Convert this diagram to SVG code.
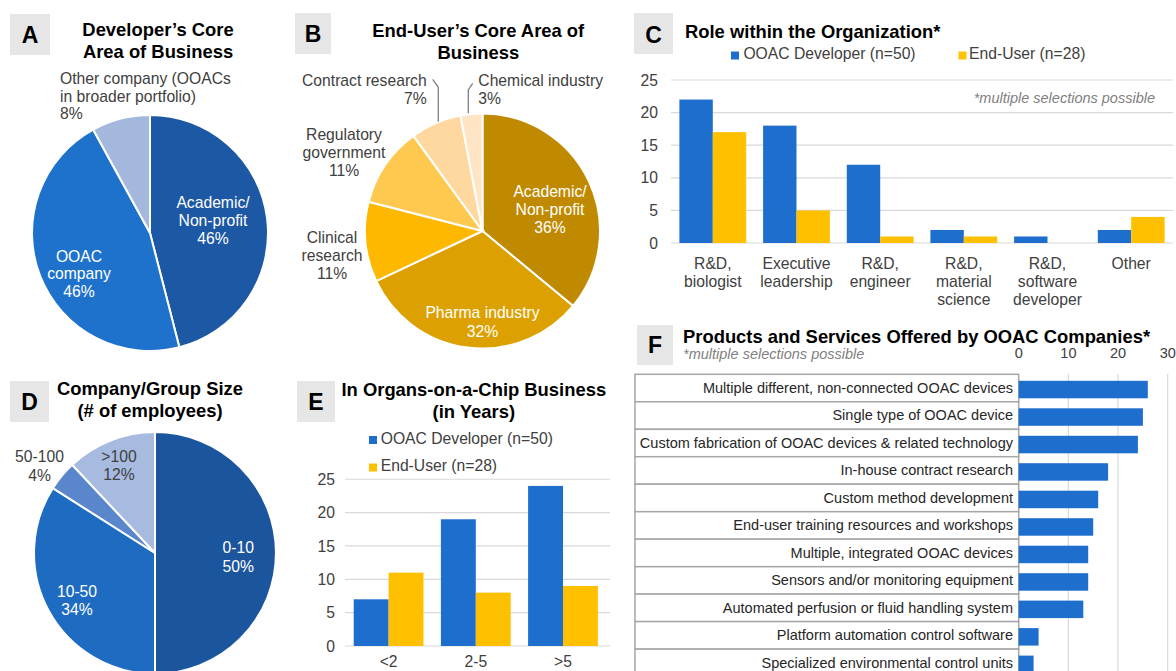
<svg xmlns="http://www.w3.org/2000/svg" width="1176" height="671" viewBox="0 0 1176 671">
<style>
text{font-family:"Liberation Sans",Arial,sans-serif}
.t{font-size:18.4px;font-weight:bold;fill:#000;text-anchor:middle}
.tl{font-size:18.4px;font-weight:bold;fill:#000}
.bx{fill:#e7e6e6}
.lt{font-size:23px;font-weight:bold;fill:#000;text-anchor:middle}
.l{font-size:15.7px;fill:#404040}
.lm{font-size:15.7px;fill:#404040;text-anchor:middle}
.le{font-size:15.7px;fill:#404040;text-anchor:end}
.w{font-size:15.7px;fill:#fff;text-anchor:middle}
.g{stroke:#d9d9d9;stroke-width:1.2;fill:none}
.sl{stroke:#fff;stroke-width:2}
.b{fill:#1e6ecd}
.y{fill:#ffc000}
.f{font-size:14.5px;fill:#262626;text-anchor:end}
.it{font-size:14.5px;font-style:italic;fill:#7f7f7f}
.ax{font-size:14.5px;fill:#404040;text-anchor:middle}
.ld{fill:none;stroke:#808080;stroke-width:1.3}
.row{fill:#fff;stroke:#a6a6a6;stroke-width:1.5}
</style>
<rect width="1176" height="671" fill="#fff"/>

<g id="panelA">
<rect class="bx" x="10" y="14" width="40" height="41"/>
<text class="lt" x="30" y="43">A</text>
<text class="t" x="158" y="36">Developer’s Core</text>
<text class="t" x="158" y="58">Area of Business</text>
<path class="sl" fill="#1d58a5" d="M150,233 L150,115 A118,118 0 0 1 179.35,347.29 Z"/>
<path class="sl" fill="#1f72cc" d="M150,233 L179.35,347.29 A118,118 0 0 1 93.15,129.6 Z"/>
<path class="sl" fill="#a4b8de" d="M150,233 L93.15,129.6 A118,118 0 0 1 150,115 Z"/>
<text class="l" x="60" y="84">Other company (OOACs</text>
<text class="l" x="60" y="101.7">in broader portfolio)</text>
<text class="l" x="60" y="119.4">8%</text>
<text class="w" x="213" y="207.5">Academic/</text>
<text class="w" x="213" y="225.5">Non-profit</text>
<text class="w" x="213" y="243.5">46%</text>
<text class="w" x="79" y="261.5">OOAC</text>
<text class="w" x="79" y="279">company</text>
<text class="w" x="79" y="296.5">46%</text>
</g>

<g id="panelB">
<rect class="bx" x="295" y="13" width="36" height="41"/>
<text class="lt" x="313" y="42">B</text>
<text class="t" x="478.3" y="37">End-User’s Core Area of</text>
<text class="t" x="478.3" y="59">Business</text>
<path class="sl" fill="#bf8a00" d="M482.5,231 L482.5,113.5 A117.5,117.5 0 0 1 573.03,305.9 Z"/>
<path class="sl" fill="#dca100" d="M482.5,231 L573.03,305.9 A117.5,117.5 0 0 1 376.18,281.03 Z"/>
<path class="sl" fill="#ffb800" d="M482.5,231 L376.18,281.03 A117.5,117.5 0 0 1 368.69,201.78 Z"/>
<path class="sl" fill="#ffc84f" d="M482.5,231 L368.69,201.78 A117.5,117.5 0 0 1 413.43,135.94 Z"/>
<path class="sl" fill="#fed89e" d="M482.5,231 L413.43,135.94 A117.5,117.5 0 0 1 460.48,115.58 Z"/>
<path class="sl" fill="#ffe5c6" d="M482.5,231 L460.48,115.58 A117.5,117.5 0 0 1 482.5,113.5 Z"/>
<path class="ld" d="M432.7,79.3 L438.3,87.3 L438.3,121.7"/>
<path class="ld" d="M468.3,113.3 L468.3,90 L472.7,83.3"/>
<text class="le" x="426.7" y="86">Contract research</text>
<text class="le" x="426.7" y="104">7%</text>
<text class="l" x="478.3" y="86">Chemical industry</text>
<text class="l" x="478.3" y="104">3%</text>
<text class="lm" x="344" y="139.5">Regulatory</text>
<text class="lm" x="344" y="157.5">government</text>
<text class="lm" x="344" y="175.5">11%</text>
<text class="lm" x="332" y="242.5">Clinical</text>
<text class="lm" x="332" y="260.5">research</text>
<text class="lm" x="332" y="279">11%</text>
<text class="w" x="550" y="196.5">Academic/</text>
<text class="w" x="550" y="214.5">Non-profit</text>
<text class="w" x="550" y="233">36%</text>
<text class="w" x="482.5" y="318">Pharma industry</text>
<text class="w" x="482.5" y="336.5">32%</text>
</g>

<g id="panelC">
<rect class="bx" x="634" y="13" width="39" height="41"/>
<text class="lt" x="653.5" y="43">C</text>
<text class="tl" x="685" y="38">Role within the Organization*</text>
<rect class="b" x="731" y="51.5" width="8" height="8"/>
<text class="l" x="743.4" y="59">OOAC Developer (n=50)</text>
<rect class="y" x="958.5" y="51.5" width="8" height="8"/>
<text class="l" x="969" y="59">End-User (n=28)</text>
<path class="g" d="M671,80H1173M671,112.6H1173M671,145.2H1173M671,177.8H1173M671,210.4H1173M671,243H1173"/>
<text class="le" x="658" y="85.5">25</text>
<text class="le" x="658" y="118">20</text>
<text class="le" x="658" y="150.7">15</text>
<text class="le" x="658" y="183.3">10</text>
<text class="le" x="658" y="215.9">5</text>
<text class="le" x="658" y="248.5">0</text>
<text class="it" x="1155" y="103" text-anchor="end">*multiple selections possible</text>
<rect class="b" x="679.4" y="99.56" width="33.4" height="143.44"/>
<rect class="y" x="712.8" y="132.16" width="33.4" height="110.84"/>
<rect class="b" x="763.1" y="125.64" width="33.4" height="117.36"/>
<rect class="y" x="796.5" y="210.4" width="33.4" height="32.6"/>
<rect class="b" x="846.8" y="164.76" width="33.4" height="78.24"/>
<rect class="y" x="880.2" y="236.48" width="33.4" height="6.52"/>
<rect class="b" x="930.4" y="229.96" width="33.4" height="13.04"/>
<rect class="y" x="963.8" y="236.48" width="33.4" height="6.52"/>
<rect class="b" x="1014.1" y="236.48" width="33.4" height="6.52"/>
<rect class="b" x="1097.8" y="229.96" width="33.4" height="13.04"/>
<rect class="y" x="1131.2" y="216.92" width="33.4" height="26.08"/>
<text class="lm" x="712.8" y="269">R&amp;D,</text>
<text class="lm" x="712.8" y="287">biologist</text>
<text class="lm" x="796.5" y="269">Executive</text>
<text class="lm" x="796.5" y="287">leadership</text>
<text class="lm" x="880.2" y="269">R&amp;D,</text>
<text class="lm" x="880.2" y="287">engineer</text>
<text class="lm" x="963.8" y="269">R&amp;D,</text>
<text class="lm" x="963.8" y="287">material</text>
<text class="lm" x="963.8" y="305">science</text>
<text class="lm" x="1047.5" y="269">R&amp;D,</text>
<text class="lm" x="1047.5" y="287">software</text>
<text class="lm" x="1047.5" y="305">developer</text>
<text class="lm" x="1131.2" y="269">Other</text>
</g>

<g id="panelD">
<rect class="bx" x="10" y="381" width="39" height="41"/>
<text class="lt" x="29.5" y="410">D</text>
<text class="t" x="150" y="395">Company/Group Size</text>
<text class="t" x="150" y="417">(# of employees)</text>
<path class="sl" fill="#1b559e" d="M155,553 L155,432 A121,121 0 0 1 155,674 Z"/>
<path class="sl" fill="#1e6cc2" d="M155,553 L155,674 A121,121 0 0 1 52.84,488.16 Z"/>
<path class="sl" fill="#5a86cc" d="M155,553 L52.84,488.16 A121,121 0 0 1 72.17,464.79 Z"/>
<path class="sl" fill="#a7bbe0" d="M155,553 L72.17,464.79 A121,121 0 0 1 155,432 Z"/>
<text class="w" x="238.3" y="553">0-10</text>
<text class="w" x="238.3" y="571.5">50%</text>
<text class="w" x="77" y="597">10-50</text>
<text class="w" x="77" y="615">34%</text>
<text class="lm" x="119" y="462">&gt;100</text>
<text class="lm" x="119" y="480">12%</text>
<text class="lm" x="39.5" y="462">50-100</text>
<text class="lm" x="39.5" y="480.5">4%</text>
</g>

<g id="panelE">
<rect class="bx" x="297" y="381" width="38" height="41"/>
<text class="lt" x="316" y="410">E</text>
<text class="t" x="473.8" y="396">In Organs-on-a-Chip Business</text>
<text class="t" x="473.8" y="418">(in Years)</text>
<rect class="b" x="369" y="436" width="8" height="8"/>
<text class="l" x="380.7" y="444.3">OOAC Developer (n=50)</text>
<rect class="y" x="369" y="463.5" width="8" height="8"/>
<text class="l" x="380.7" y="470.8">End-User (n=28)</text>
<path class="g" d="M345,479.25H610M345,512.6H610M345,545.95H610M345,579.3H610M345,612.65H610M345,646H610"/>
<text class="le" x="335" y="485">25</text>
<text class="le" x="335" y="518.3">20</text>
<text class="le" x="335" y="551.7">15</text>
<text class="le" x="335" y="585">10</text>
<text class="le" x="335" y="618.4">5</text>
<text class="le" x="335" y="651.7">0</text>
<rect class="b" x="353.7" y="599.31" width="34.9" height="46.69"/>
<rect class="y" x="388.6" y="572.63" width="34.9" height="73.37"/>
<rect class="b" x="440.9" y="519.27" width="34.9" height="126.73"/>
<rect class="y" x="475.8" y="592.64" width="34.9" height="53.36"/>
<rect class="b" x="528.1" y="485.92" width="34.9" height="160.08"/>
<rect class="y" x="563" y="585.97" width="34.9" height="60.03"/>
<text class="lm" x="388.6" y="667">&lt;2</text>
<text class="lm" x="475.8" y="667">2-5</text>
<text class="lm" x="563" y="667">&gt;5</text>
</g>

<g id="panelF">
<rect class="bx" x="637" y="325" width="36" height="40"/>
<text class="lt" x="655" y="353">F</text>
<text class="tl" x="683" y="343">Products and Services Offered by OOAC Companies*</text>
<text class="it" x="683" y="359">*multiple selections possible</text>
<text class="ax" x="1018.7" y="358">0</text>
<text class="ax" x="1068.4" y="358">10</text>
<text class="ax" x="1118" y="358">20</text>
<text class="ax" x="1167.7" y="358">30</text>
<path class="g" d="M1068.4,374V671M1118,374V671M1167.7,374V671"/>
<rect class="row" x="635" y="374.3" width="383.7" height="27.5"/>
<rect class="row" x="635" y="401.8" width="383.7" height="27.5"/>
<rect class="row" x="635" y="429.3" width="383.7" height="27.5"/>
<rect class="row" x="635" y="456.7" width="383.7" height="27.5"/>
<rect class="row" x="635" y="484.2" width="383.7" height="27.5"/>
<rect class="row" x="635" y="511.7" width="383.7" height="27.5"/>
<rect class="row" x="635" y="539.2" width="383.7" height="27.5"/>
<rect class="row" x="635" y="566.7" width="383.7" height="27.5"/>
<rect class="row" x="635" y="594.1" width="383.7" height="27.5"/>
<rect class="row" x="635" y="621.6" width="383.7" height="27.5"/>
<rect class="row" x="635" y="649.1" width="383.7" height="27.5"/>
<text class="f" x="1013" y="392.8">Multiple different, non-connected OOAC devices</text>
<text class="f" x="1013" y="420.3">Single type of OOAC device</text>
<text class="f" x="1013" y="447.8">Custom fabrication of OOAC devices &amp; related technology</text>
<text class="f" x="1013" y="475.2">In-house contract research</text>
<text class="f" x="1013" y="502.7">Custom method development</text>
<text class="f" x="1013" y="530.2">End-user training resources and workshops</text>
<text class="f" x="1013" y="557.7">Multiple, integrated OOAC devices</text>
<text class="f" x="1013" y="585.2">Sensors and/or monitoring equipment</text>
<text class="f" x="1013" y="612.6">Automated perfusion or fluid handling system</text>
<text class="f" x="1013" y="640.1">Platform automation control software</text>
<text class="f" x="1013" y="667.6">Specialized environmental control units</text>
<rect class="b" x="1018.7" y="380.8" width="129.1" height="17.5"/>
<rect class="b" x="1018.7" y="408.3" width="124.2" height="17.5"/>
<rect class="b" x="1018.7" y="435.8" width="119.2" height="17.5"/>
<rect class="b" x="1018.7" y="463.2" width="89.4" height="17.5"/>
<rect class="b" x="1018.7" y="490.7" width="79.5" height="17.5"/>
<rect class="b" x="1018.7" y="518.2" width="74.5" height="17.5"/>
<rect class="b" x="1018.7" y="545.7" width="69.5" height="17.5"/>
<rect class="b" x="1018.7" y="573.2" width="69.5" height="17.5"/>
<rect class="b" x="1018.7" y="600.6" width="64.6" height="17.5"/>
<rect class="b" x="1018.7" y="628.1" width="19.9" height="17.5"/>
<rect class="b" x="1018.7" y="655.6" width="14.9" height="17.5"/>
</g>
</svg>
